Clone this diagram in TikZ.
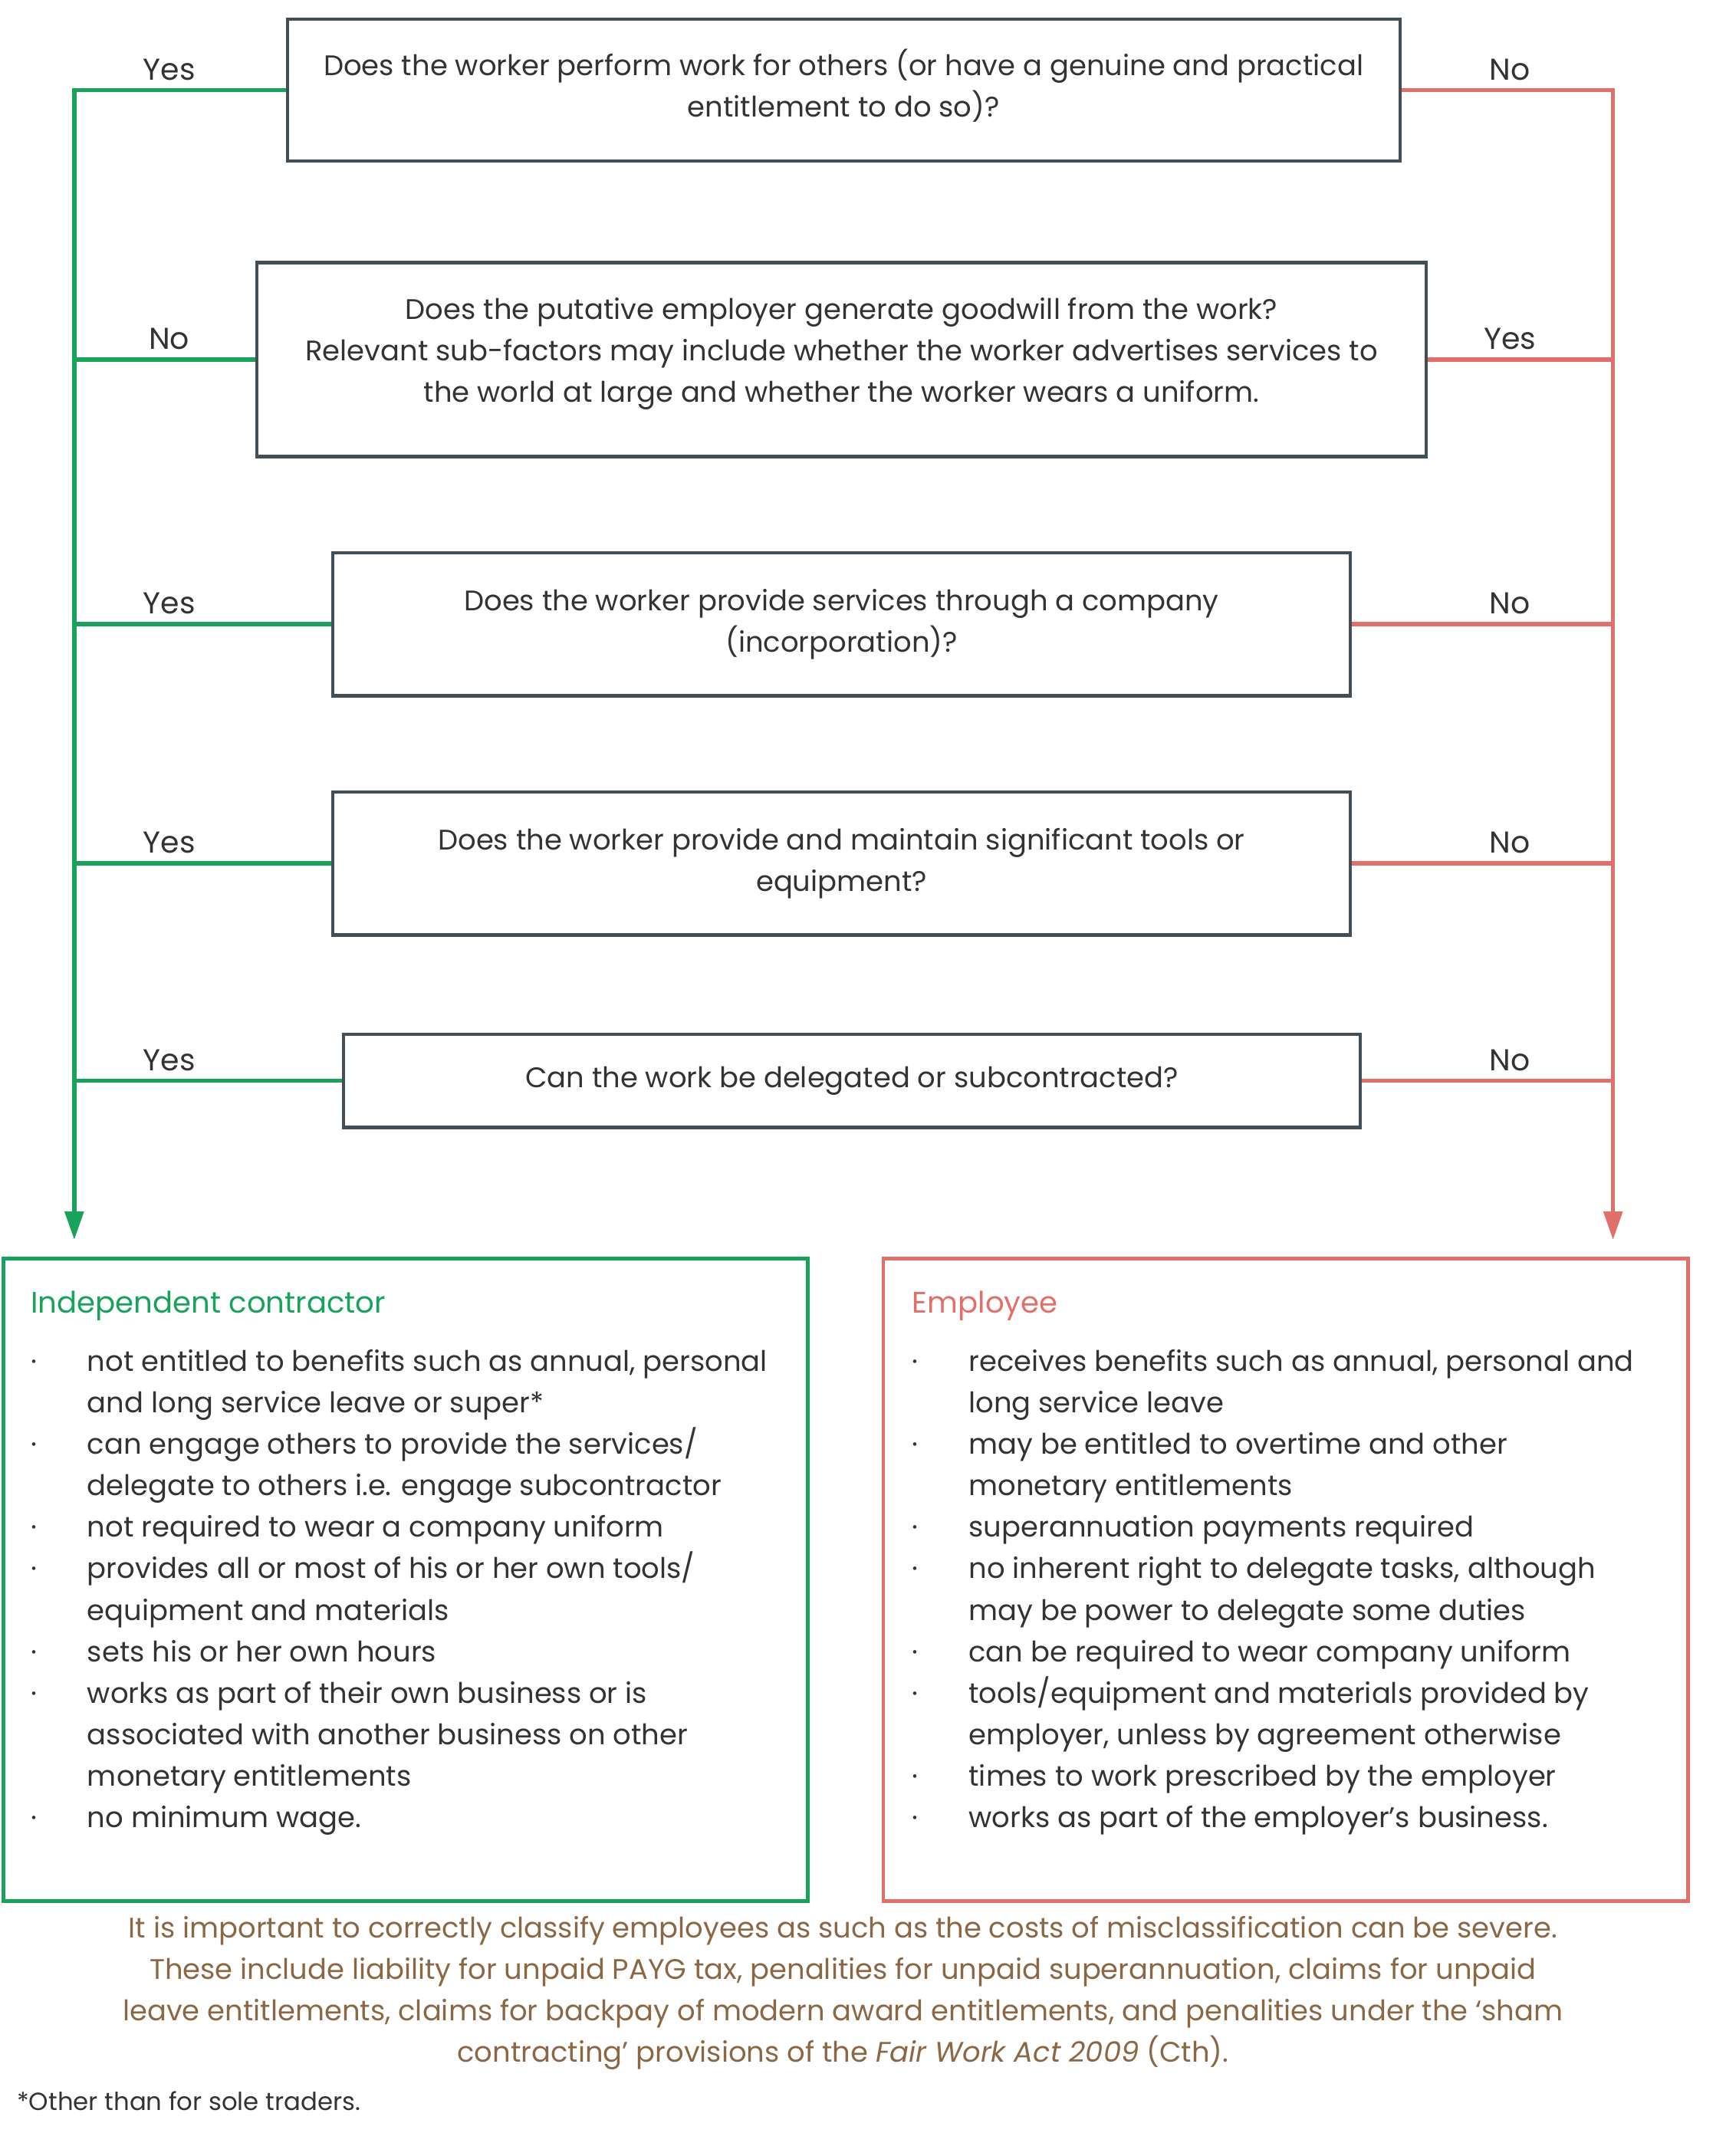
\documentclass[tikz,border=0pt]{standalone}
\usepackage{fontspec}
\setmainfont{Poppins}
\usetikzlibrary{arrows.meta}

\definecolor{slate}{HTML}{434F58}
\definecolor{grn}{HTML}{18A25C}
\definecolor{rd}{HTML}{E2706A}
\definecolor{brn}{HTML}{8A6845}
\definecolor{ink}{HTML}{333333}

\newcommand{\pu}{0.01793cm}
\newcommand{\bu}{\makebox[21pt][l]{·}}
\newcommand{\ind}{\hspace*{21pt}}

\begin{document}
\begin{tikzpicture}[x=0.01793cm, y=-0.01793cm,
	every node/.style={font=\fontsize{10.5}{15.4}\selectfont, text=ink},
	qbox/.style={draw=slate, line width=1.2pt, align=center, inner sep=0pt},
	outbox/.style={line width=1.4pt, inner sep=0pt, anchor=north west, minimum width=585*\pu, minimum height=467*\pu},
	yesno/.style={anchor=base, yshift=3.8pt, font=\fontsize{11.2}{13}\selectfont},
	gline/.style={draw=grn, line width=1.6pt},
	rline/.style={draw=rd, line width=1.6pt},
	tip/.style={-{Triangle[length=3.7mm, width=2.4mm]}, shorten >=2.2mm}]
	\useasboundingbox (0, 0) rectangle (1255, 1568);

	\node [qbox, minimum width=809*\pu, minimum height=103*\pu] (q1) at (613.5, 65.5)
		{Does the worker perform work for others (or have a genuine and practical\\entitlement to do so)?\\[-10.3pt]};
	\node [qbox, minimum width=850*\pu, minimum height=141*\pu] (q2) at (612, 261.5)
		{Does the putative employer generate goodwill from the work?\\Relevant sub-factors may include whether the worker advertises services to\\the world at large and whether the worker wears a uniform.\\[-8.3pt]};
	\node [qbox, minimum width=740*\pu, minimum height=104*\pu] (q3) at (612, 454)
		{Does the worker provide services through a company\\(incorporation)?};
	\node [qbox, minimum width=740*\pu, minimum height=104*\pu] (q4) at (612, 628)
		{Does the worker provide and maintain significant tools or\\equipment?};
	\node [qbox, minimum width=739*\pu, minimum height=68*\pu] (q5) at (619.5, 786)
		{Can the work be delegated or subcontracted?};

	\node [outbox, draw=grn] (ic) at (1, 914) {};
	\node [outbox, draw=rd] (emp) at (641, 914) {};

	\coordinate (gl) at (54, 0);
	\coordinate (rl) at (1173, 0);
	\coordinate (ylx) at (123, 0);
	\coordinate (nlx) at (1098, 0);

	\draw [gline, tip] (q1.west) -- (q1.west -| gl) -- (gl |- ic.north);
	\draw [rline, tip] (q1.east) -- (q1.east -| rl) -- (rl |- emp.north);
	\draw [gline] (q2.west) -- (q2.west -| gl);
	\draw [rline] (q2.east) -- (q2.east -| rl);
	\draw [gline] (q3.west) -- (q3.west -| gl);
	\draw [rline] (q3.east) -- (q3.east -| rl);
	\draw [gline] (q4.west) -- (q4.west -| gl);
	\draw [rline] (q4.east) -- (q4.east -| rl);
	\draw [gline] (q5.west) -- (q5.west -| gl);
	\draw [rline] (q5.east) -- (q5.east -| rl);

	\node [yesno] at (q1.west -| ylx) {Yes};
	\node [yesno] at (q1.east -| nlx) {No};
	\node [yesno] at (q2.west -| ylx) {No};
	\node [yesno] at (q2.east -| nlx) {Yes};
	\node [yesno] at (q3.west -| ylx) {Yes};
	\node [yesno] at (q3.east -| nlx) {No};
	\node [yesno] at (q4.west -| ylx) {Yes};
	\node [yesno] at (q4.east -| nlx) {No};
	\node [yesno] at (q5.west -| ylx) {Yes};
	\node [yesno] at (q5.east -| nlx) {No};

	\node [anchor=base west, inner sep=0pt, text=grn, font=\fontsize{11}{13}\selectfont] (ict) at (22, 955) {Independent contractor};
	\node [anchor=north west, align=left, inner sep=0pt] (icl) at (22, 981)
		{\bu not entitled to benefits such as annual, personal\\
		\ind and long service leave or super*\\
		\bu can engage others to provide the services/\\
		\ind delegate to others i.e. engage subcontractor\\
		\bu not required to wear a company uniform\\
		\bu provides all or most of his or her own tools/\\
		\ind equipment and materials\\
		\bu sets his or her own hours\\
		\bu works as part of their own business or is\\
		\ind associated with another business on other\\
		\ind monetary entitlements\\
		\bu no minimum wage.};

	\node [anchor=base west, inner sep=0pt, text=rd, font=\fontsize{11}{13}\selectfont] (empt) at (663, 955) {Employee};
	\node [anchor=north west, align=left, inner sep=0pt] (empl) at (663, 981)
		{\bu receives benefits such as annual, personal and\\
		\ind long service leave\\
		\bu may be entitled to overtime and other\\
		\ind monetary entitlements\\
		\bu superannuation payments required\\
		\bu no inherent right to delegate tasks, although\\
		\ind may be power to delegate some duties\\
		\bu can be required to wear company uniform\\
		\bu tools/equipment and materials provided by\\
		\ind employer, unless by agreement otherwise\\
		\bu times to work prescribed by the employer\\
		\bu works as part of the employer’s business.};

	\node [anchor=north, align=center, inner sep=0pt, text=brn] (note) at (613, 1393)
		{It is important to correctly classify employees as such as the costs of misclassification can be severe.\\
		These include liability for unpaid PAYG tax, penalities for unpaid superannuation, claims for unpaid\\
		leave entitlements, claims for backpay of modern award entitlements, and penalities under the ‘sham\\
		contracting’ provisions of the \textit{Fair Work Act 2009} (Cth).};
	\node [anchor=base west, inner sep=0pt, font=\fontsize{9.2}{11}\selectfont] (foot) at (12, 1535) {*Other than for sole traders.};
\end{tikzpicture}
\end{document}
